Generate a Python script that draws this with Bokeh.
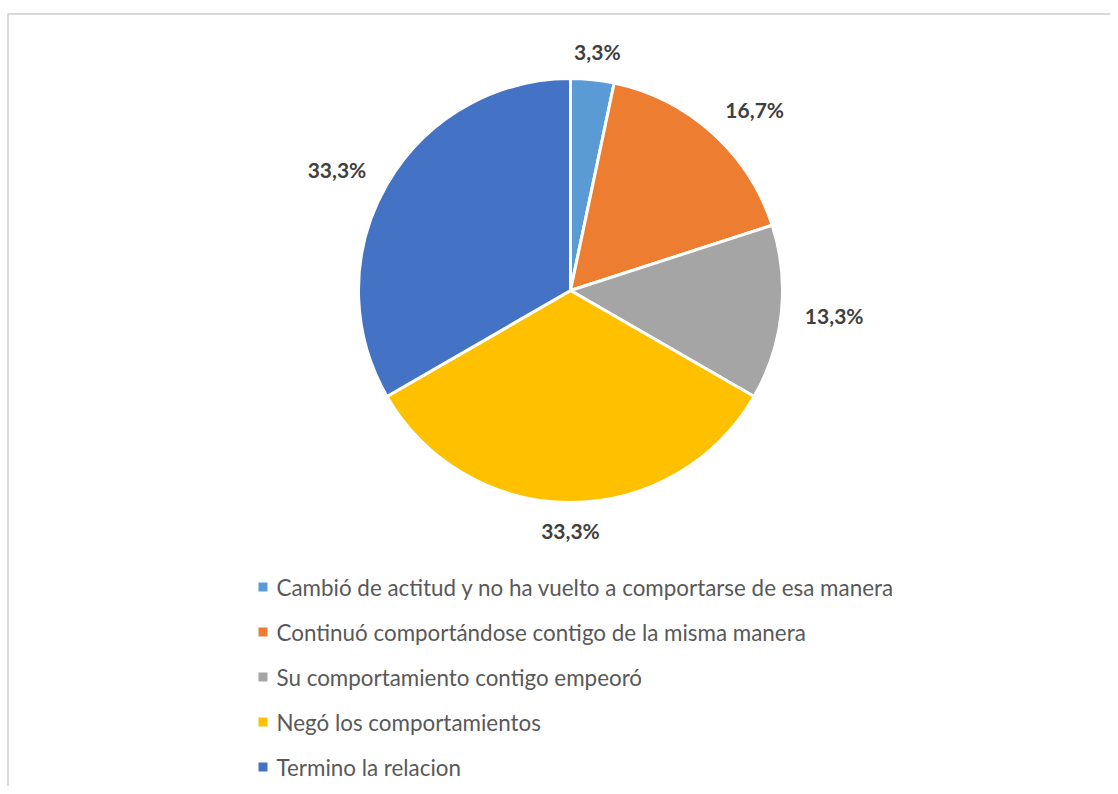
import math
from bokeh.plotting import figure
from bokeh.models import Range1d, ColumnDataSource
from bokeh.core.properties import value
from bokeh.embed import file_html
from bokeh.resources import INLINE

categories = [
    "Cambió de actitud y no ha vuelto a comportarse de esa manera",
    "Continuó comportándose contigo de la misma manera",
    "Su comportamiento contigo empeoró",
    "Negó los comportamientos",
    "Termino la relacion",
]
percent = [3.3, 16.7, 13.3, 33.3, 33.3]
labels = ["3,3%", "16,7%", "13,3%", "33,3%", "33,3%"]
colors = ["#5B9BD5", "#ED7D31", "#A5A5A5", "#FFC000", "#4472C4"]

W, H = 1110, 786
p = figure(width=W, height=H, output_backend="svg", toolbar_location=None,
           x_range=Range1d(0, W), y_range=Range1d(0, H),
           min_border=0, outline_line_color=None)
p.axis.visible = False
p.grid.visible = False
p.background_fill_color = "white"
p.border_fill_color = "white"

def Y(py):
    return H - py

# chart border
p.quad(left=[7.5], right=[1200], top=[Y(13.5)], bottom=[-50],
       fill_color=None, line_color="#d9d9d9", line_width=2)

cx, cy, r = 570, Y(290), 212
total = sum(percent)
starts, ends, mids = [], [], []
cum = 0.0
for v in percent:
    a0 = math.pi / 2 - cum / total * 2 * math.pi
    cum += v
    a1 = math.pi / 2 - cum / total * 2 * math.pi
    starts.append(a0)
    ends.append(a1)
    mids.append((a0 + a1) / 2)

src = ColumnDataSource(dict(start=starts, end=ends, color=colors))
p.wedge(x=cx, y=cy, radius=r, start_angle="start", end_angle="end",
        direction="clock", fill_color="color", line_color="white",
        line_width=3, source=src)

lx, ly = [], []
for m, t in zip(mids, labels):
    hw, hh = 6.0 * len(t), 9
    c, s = math.cos(m), math.sin(m)
    k = max(abs(c), abs(s))
    d = r + 19
    lx.append(cx + d * c + hw * c / k + 4 * c)
    ly.append(cy + d * s + hh * s / k)
p.text(x=lx, y=ly, text=labels, text_align="center", text_baseline="middle",
       text_font=value("Lato"), text_font_style="bold", text_font_size="21px",
       text_color="#404040")

# legend
ys = [Y(586.5 + 45 * i) for i in range(len(categories))]
p.rect(x=[262.5] * len(categories), y=ys, width=9, height=9, fill_color=colors,
       line_color=None)
p.text(x=[276] * len(categories), y=ys, text=categories, text_align="left",
       text_baseline="middle", text_font=value("Lato"), text_font_size="22.4px",
       text_color="#595959")

open("out.html", "w").write(file_html(p, INLINE))
